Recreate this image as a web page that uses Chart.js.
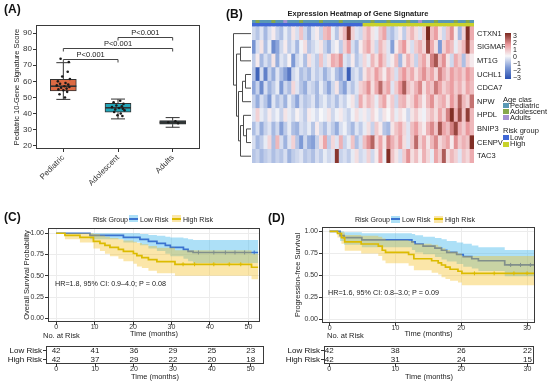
<!DOCTYPE html>
<html>
<head>
<meta charset="utf-8">
<script src="https://cdn.jsdelivr.net/npm/chart.js@4.4.0/dist/chart.umd.min.js"></script>
<style>
  body { margin: 0; background: #fff; width: 550px; height: 383px; overflow: hidden; position: relative;
         font-family: 'Liberation Sans', Arial, sans-serif; }
  canvas { position: absolute; }
  .t { position: absolute; white-space: nowrap; color: #222; line-height: 1; }
</style>
</head>
<body>
<canvas id="boxChart" width="205" height="205" style="left:0;top:0"></canvas>
<canvas id="heatChart" width="285" height="170" style="left:225px;top:0"></canvas>
<canvas id="kmC" width="270" height="142" style="left:0;top:200px"></canvas>
<canvas id="tableC" width="270" height="43" style="left:0;top:340px"></canvas>
<canvas id="kmD" width="275" height="142" style="left:275px;top:200px"></canvas>
<canvas id="tableD" width="275" height="43" style="left:275px;top:340px"></canvas>
<script>
// ---------- data: panel A (box plot) ----------
const ageGroups = ["Pediatric", "Adolescent", "Adults"];
const boxQ1 = [54.1, 40.8, 33.4];
const boxQ3 = [61.2, 46.4, 35.6];
const boxMedian = [57.0, 43.6, 34.5];
const whiskerLow = [48.8, 36.7, 31.5];
const whiskerHigh = [71.6, 49.0, 37.5];
const pediatricScores = [74.0, 72.0, 66.0, 63.0, 61.5, 60.0, 59.0, 58.5, 58.0, 57.5, 57.0, 56.5, 56.0, 55.5, 55.0, 54.5, 53.5, 52.0, 50.0];
const pediatricJitter = [-0.05, 0.1, 0.08, -0.02, 0.12, -0.1, 0.04, -0.06, 0.09, -0.12, 0.02, 0.11, -0.04, 0.06, -0.09, 0.0, 0.07, -0.07, 0.03];
const adolescentScores = [48.0, 47.0, 46.0, 45.0, 44.5, 44.0, 43.5, 43.0, 42.5, 42.0, 41.0, 40.0, 39.0, 38.5];
const adolescentJitter = [0.04, -0.08, 0.1, -0.03, 0.07, -0.11, 0.02, 0.09, -0.05, 0.12, -0.07, 0.05, -0.01, 0.08];
const adultScores = [35.2, 34.6, 34.0];
const adultJitter = [0.05, -0.08, 0.1];
const yTicksA = [20, 30, 40, 50, 60, 70, 80, 90];
const pBracketFrom = [0, 0, 1];
const pBracketTo = [1, 2, 2];
const pBracketY = [74, 80.5, 87.5];
const pLabels = ["P<0.001", "P<0.001", "P<0.001"];

// ---------- data: panel B (heatmap) ----------
const genes = ["CTXN1", "SIGMAR1", "MT1G", "UCHL1", "CDCA7", "NPW", "HPDL", "BNIP3", "CENPV", "TAC3"];
const heatValues = [
  [-0.5,-0.8,-0.3,-1.0,-0.4,0.2,-0.6,-0.9,-0.2,-0.7,0.3,-0.4,0.8,-0.5,-1.1,-0.3,0.2,-0.6,0.9,1.2,-0.2,-0.8,0.4,1.0,2.8,0.6,-0.3,-0.5,
   0.6,1.1,0.3,-0.2,0.8,1.3,-0.6,-0.9,-0.4,0.2,-0.7,0.5,1.0,0.4,-0.3,0.7,3.0,0.9,1.4,0.3,-0.5,0.8,1.6,0.2,-1.0,0.6,2.9,1.2],
  [-1.6,-0.4,0.3,-0.9,-0.2,-1.8,-1.3,-0.5,0.2,-0.7,-0.3,-1.0,-0.1,0.4,-0.8,-0.5,-0.2,0.3,-0.6,-1.1,-0.3,0.1,-0.7,0.6,1.4,-0.4,-0.9,0.2,
   0.8,1.3,0.4,-0.5,1.0,0.5,-0.3,-1.4,0.2,0.9,1.5,0.3,-0.4,0.7,1.1,0.5,2.6,1.2,0.4,-1.5,0.6,1.3,0.9,-0.2,0.5,1.0,2.7,0.8],
  [-0.7,0.2,-1.0,-0.4,-0.8,0.3,-1.2,-0.3,-0.6,0.1,-1.5,-0.5,-0.2,-0.9,0.4,-0.3,-0.7,0.8,-0.4,0.3,1.2,0.9,1.6,-0.3,-0.6,0.2,-0.8,-0.4,
   0.5,-0.2,1.0,0.4,1.4,0.7,-0.3,0.2,0.9,-1.0,0.3,1.1,0.5,-0.6,0.8,1.3,0.4,1.8,2.4,0.9,1.6,0.3,-0.5,1.2,0.7,-0.9,0.6,0.2],
  [-0.8,-2.6,-0.4,-2.0,-0.6,-1.2,-0.3,-0.9,-1.4,-2.2,-0.5,-0.2,-0.9,-0.6,-1.0,-0.3,-0.7,-0.4,-1.1,-0.6,-0.2,-0.9,-1.3,-0.5,-2.7,-0.6,-0.3,-0.8,
   0.3,0.9,0.5,1.4,0.8,0.2,1.1,0.6,-0.4,0.9,1.5,0.7,1.2,0.4,1.0,1.6,0.8,1.3,0.5,1.8,1.1,0.6,1.4,0.9,1.2,0.7,1.5,1.0],
  [-1.3,-0.6,-1.8,-0.4,-1.1,-0.7,-0.2,-1.5,-0.5,-0.9,0.5,-0.3,-0.8,-1.2,-0.4,-0.6,-1.0,-0.2,-0.7,-1.3,-0.5,0.3,-0.9,-1.4,-0.4,-0.8,-0.3,0.6,
   0.9,1.6,0.4,1.2,2.1,0.8,1.3,-0.3,0.7,1.5,2.3,0.9,0.5,1.1,1.7,0.4,1.2,0.8,1.9,1.3,0.6,1.0,1.4,0.7,1.1,0.5,1.3,0.9],
  [-0.6,-1.2,-0.4,-0.8,-1.5,-0.3,-0.9,-0.5,-1.1,-0.2,-0.7,-1.3,-0.4,-0.8,-0.6,-0.3,-1.0,-0.5,-0.2,-0.7,-0.4,-0.9,-0.3,-0.6,-0.1,0.3,-0.5,1.2,
   0.4,1.0,0.6,-0.2,0.8,1.3,0.2,0.7,-0.5,0.9,1.1,0.3,0.6,1.4,0.8,0.2,1.0,1.6,0.5,0.9,1.2,0.4,1.5,0.8,2.2,1.0,0.6,2.0],
  [-0.3,0.6,-0.2,-0.5,0.2,-0.4,-0.1,-0.6,0.3,-0.2,-0.5,0.1,-0.3,-0.7,0.2,-0.1,-0.4,0.0,-0.2,0.3,-0.5,-0.1,0.2,-0.3,-0.6,-0.1,0.4,-0.2,
   0.2,-0.3,0.5,0.1,-0.4,0.3,0.0,0.6,-0.2,0.4,0.1,-0.5,0.3,0.7,0.2,-0.1,0.5,0.9,0.4,1.3,0.6,1.8,2.9,1.1,2.5,0.8,2.7,1.0],
  [-0.9,-0.4,-1.2,-0.6,-0.3,-1.0,-0.5,-1.4,-0.7,-0.2,-0.9,-1.1,-0.4,-0.6,-0.2,-0.8,0.2,-0.5,-0.9,-0.3,-0.7,-1.2,-0.4,-0.1,-0.6,-1.0,-0.3,-0.7,
   -0.2,0.4,-0.6,0.7,0.2,-0.8,-1.0,0.3,0.8,1.2,0.5,-0.3,0.9,1.4,0.6,0.2,1.1,1.7,0.8,2.4,1.3,0.9,1.8,2.6,1.2,0.7,1.5,1.0],
  [-0.4,-1.0,-0.7,-0.2,0.5,-0.9,1.0,-0.4,-1.1,-0.3,0.6,-0.8,-1.5,-0.5,-1.2,-1.4,-0.6,0.4,1.3,-0.7,0.5,-0.3,1.1,-0.6,-0.2,0.8,-0.9,-0.4,
   0.9,1.6,2.2,0.5,1.3,0.3,1.8,1.1,0.6,1.4,0.4,-0.3,0.8,2.1,0.6,1.2,0.3,1.0,1.7,0.5,0.9,1.3,0.2,1.6,0.7,1.1,0.8,2.9],
  [-0.8,-0.6,-1.0,-0.7,-0.5,-0.9,-0.6,-0.8,-0.4,-1.1,-0.7,-0.5,-0.3,-0.8,-0.6,-0.9,-0.4,-0.7,-0.2,-0.5,-0.3,2.8,-0.6,-0.4,-0.7,-0.2,0.4,-0.5,
   -0.3,0.6,-0.5,0.2,1.4,-0.1,2.9,0.8,0.3,-0.4,0.7,1.6,0.4,0.9,0.2,1.1,0.5,-0.2,1.3,0.7,2.3,0.4,1.0,0.6,-0.3,0.8,0.5,1.2]
];
const ageClass = [
  "Pediatric","Adolescent","Pediatric","Pediatric","Pediatric","Adolescent","Pediatric","Pediatric","Adults","Pediatric",
  "Pediatric","Pediatric","Adolescent","Pediatric","Pediatric","Pediatric","Pediatric","Adolescent","Pediatric","Pediatric",
  "Pediatric","Pediatric","Adolescent","Pediatric","Pediatric","Pediatric","Pediatric","Pediatric",
  "Pediatric","Pediatric","Adolescent","Pediatric","Pediatric","Pediatric","Adolescent","Pediatric","Pediatric","Pediatric",
  "Pediatric","Adolescent","Pediatric","Pediatric","Adults","Pediatric","Pediatric","Pediatric","Adolescent","Pediatric",
  "Pediatric","Pediatric","Pediatric","Adolescent","Pediatric","Pediatric","Adolescent","Pediatric"
];
const riskGroup = ageClass.map((_, i) => (i < 28 ? "Low" : "High"));
// row dendrogram: [child a, child b, height]; new node ids continue after the genes
const dendroMerges = [[1, 2, 0.6], [3, 4, 0.35], [11, 5, 0.5], [7, 8, 0.3], [6, 13, 0.45], [14, 9, 0.6], [12, 15, 0.75], [10, 16, 0.85], [0, 17, 1.0]];
const colorbarTicks = ["3", "2", "1", "0", "\u22121", "\u22122", "\u22123"];

// ---------- data: panel C (overall survival) ----------
const timeLowC = [0, 8.8, 17.5, 21.8, 24.0, 26.2, 28.4, 29.7, 33.1, 34.3, 35.6, 52.5];
const survLowC = [1, 0.976, 0.952, 0.929, 0.905, 0.881, 0.857, 0.833, 0.810, 0.786, 0.774, 0.774];
const upperLowC = [1, 1, 1, 0.99, 0.98, 0.97, 0.96, 0.95, 0.94, 0.93, 0.92, 0.92];
const lowerLowC = [1, 0.93, 0.89, 0.86, 0.82, 0.79, 0.76, 0.73, 0.70, 0.67, 0.65, 0.65];
const timeHighC = [0, 2.3, 6.2, 9.7, 11.4, 12.7, 14.0, 16.2, 17.5, 20.1, 21.0, 22.3, 24.0, 26.2, 30.9, 50.8, 52.5];
const survHighC = [1, 0.976, 0.952, 0.905, 0.881, 0.857, 0.833, 0.810, 0.786, 0.762, 0.738, 0.714, 0.690, 0.667, 0.635, 0.600, 0.600];
const upperHighC = [1, 1, 1, 0.99, 0.975, 0.96, 0.945, 0.93, 0.915, 0.9, 0.885, 0.87, 0.85, 0.83, 0.80, 0.76, 0.76];
const lowerHighC = [1, 0.93, 0.89, 0.82, 0.79, 0.76, 0.73, 0.70, 0.67, 0.64, 0.61, 0.59, 0.56, 0.53, 0.50, 0.46, 0.46];
const censorLowC = [37, 41, 44, 46.5, 49, 51.5];
const censorHighC = [33, 36, 41, 45, 48];
const riskTimesC = [0, 10, 20, 30, 40, 50];
const atRiskLowC = [42, 41, 36, 29, 25, 23];
const atRiskHighC = [42, 37, 29, 22, 20, 18];

// ---------- data: panel D (progression-free survival) ----------
const timeLowD = [0, 1.6, 2.2, 4.9, 12.5, 13.0, 14.2, 16.0, 17.0, 17.8, 19.3, 20.3, 21.6, 22.6, 26.6, 31.5];
const survLowD = [1, 0.952, 0.929, 0.905, 0.881, 0.857, 0.833, 0.810, 0.786, 0.762, 0.738, 0.714, 0.690, 0.667, 0.620, 0.620];
const upperLowD = [1, 1, 0.99, 0.98, 0.97, 0.955, 0.94, 0.925, 0.91, 0.89, 0.875, 0.86, 0.84, 0.82, 0.79, 0.79];
const lowerLowD = [1, 0.89, 0.85, 0.82, 0.79, 0.76, 0.74, 0.71, 0.68, 0.66, 0.63, 0.60, 0.58, 0.55, 0.49, 0.49];
const timeHighD = [0, 1.2, 1.8, 2.3, 4.8, 7.4, 8.0, 8.5, 12.0, 12.8, 15.5, 16.5, 17.0, 17.6, 18.3, 19.5, 20.1, 31.5];
const survHighD = [1, 0.976, 0.929, 0.881, 0.857, 0.833, 0.786, 0.762, 0.738, 0.690, 0.667, 0.643, 0.619, 0.595, 0.571, 0.548, 0.524, 0.524];
const upperHighD = [1, 1, 0.99, 0.96, 0.95, 0.94, 0.92, 0.90, 0.89, 0.86, 0.85, 0.83, 0.81, 0.79, 0.77, 0.75, 0.72, 0.72];
const lowerHighD = [1, 0.93, 0.86, 0.78, 0.75, 0.72, 0.67, 0.64, 0.61, 0.56, 0.53, 0.51, 0.48, 0.46, 0.44, 0.42, 0.39, 0.39];
const censorLowD = [27.5, 29, 30.5];
const censorHighD = [22, 25, 28, 30];
const riskTimesD = [0, 10, 20, 30];
const atRiskLowD = [42, 38, 26, 22];
const atRiskHighD = [42, 31, 24, 15];

const survTicks = [0, 0.25, 0.5, 0.75, 1];
const riskRows = ["Low Risk", "High Risk"];

// ---------- styles ----------
const FONT = "'Liberation Sans', Arial, sans-serif";
Chart.defaults.font.family = FONT;
Chart.defaults.font.size = 8;
Chart.defaults.color = "#4d4d4d";
Chart.defaults.animation = false;
Chart.defaults.plugins.legend.display = false;
Chart.defaults.plugins.tooltip.enabled = false;

const boxColors = ["#dc6a43", "#22a5b8", "#32494b"];
const lowLine = "#3b73cf", highLine = "#dcbb00";
const lowBand = "rgba(60,180,235,0.42)", highBand = "rgba(245,190,30,0.38)";
const heatStops = [[-3, [42, 80, 176]], [-1.5, [126, 154, 214]], [0, [247, 247, 249]], [1.5, [234, 152, 156]], [3, [122, 40, 30]]];
const ageColors = { Pediatric: "#5a98b4", Adolescent: "#86a84c", Adults: "#a592d2" };
const riskColors = { Low: "#4068d6", High: "#c8d22a" };

function heatColor(v) {
  for (let i = 1; i < heatStops.length; i++) {
    if (v <= heatStops[i][0] || i === heatStops.length - 1) {
      const [v0, c0] = heatStops[i - 1], [v1, c1] = heatStops[i];
      const f = Math.max(0, Math.min(1, (v - v0) / (v1 - v0)));
      const c = c0.map((c, k) => Math.round(c + (c1[k] - c) * f));
      return `rgb(${c[0]},${c[1]},${c[2]})`;
    }
  }
}

// survival value of a step curve at time t (for censor marks)
function survAt(times, surv, t) {
  let s = surv[0];
  times.forEach((ti, i) => { if (ti <= t) s = surv[i]; });
  return s;
}

// frame round the plot area
const framePlugin = {
  id: "frame",
  afterDraw(chart) {
    const { ctx, chartArea: a } = chart;
    ctx.save();
    ctx.strokeStyle = "#3a3a3a";
    ctx.lineWidth = 1;
    ctx.strokeRect(Math.round(a.left) + 0.5, Math.round(a.top) + 0.5, Math.round(a.width) - 1, Math.round(a.height) - 1);
    ctx.restore();
  }
};

function text(str, x, y, css, anchor) {
  const d = document.createElement("div");
  d.className = "t";
  d.textContent = str;
  d.style.left = x + "px";
  d.style.top = y + "px";
  d.style.cssText += css || "";
  d.style.transform = anchor === "c" ? "translate(-50%,-50%)" : "translate(0,-50%)";
  document.body.appendChild(d);
  return d;
}

// ---------- (A) box plot ----------
const boxExtras = {
  id: "boxExtras",
  afterDatasetDraw(chart, args) {
    if (args.index !== 1) return;
    const { ctx, scales: { x, y } } = chart;
    ctx.save();
    ctx.strokeStyle = "#333";
    ageGroups.forEach((g, i) => {
      const cx = x.getPixelForValue(i);
      ctx.lineWidth = 1;
      ctx.beginPath();
      ctx.moveTo(cx, y.getPixelForValue(boxQ3[i]));
      ctx.lineTo(cx, y.getPixelForValue(whiskerHigh[i]));
      ctx.moveTo(cx, y.getPixelForValue(boxQ1[i]));
      ctx.lineTo(cx, y.getPixelForValue(whiskerLow[i]));
      [whiskerHigh[i], whiskerLow[i]].forEach(v => {
        ctx.moveTo(cx - 7, y.getPixelForValue(v));
        ctx.lineTo(cx + 7, y.getPixelForValue(v));
      });
      ctx.stroke();
      ctx.lineWidth = 1.6;
      ctx.beginPath();
      ctx.moveTo(cx - 13, y.getPixelForValue(boxMedian[i]));
      ctx.lineTo(cx + 13, y.getPixelForValue(boxMedian[i]));
      ctx.stroke();
    });
    ctx.restore();
  },
  afterDraw(chart) {
    const { ctx, scales: { x, y } } = chart;
    ctx.save();
    ctx.strokeStyle = "#444";
    ctx.fillStyle = "#222";
    ctx.lineWidth = 1;
    ctx.font = "7.5px " + FONT;
    ctx.textAlign = "center";
    ctx.textBaseline = "bottom";
    pBracketY.forEach((v, i) => {
      const x1 = x.getPixelForValue(pBracketFrom[i]), x2 = x.getPixelForValue(pBracketTo[i]);
      const yy = Math.round(y.getPixelForValue(v)) + 0.5;
      ctx.beginPath();
      ctx.moveTo(x1, yy + 3);
      ctx.lineTo(x1, yy);
      ctx.lineTo(x2, yy);
      ctx.lineTo(x2, yy + 3);
      ctx.stroke();
      ctx.fillText(pLabels[i], (x1 + x2) / 2, yy - 1);
    });
    ctx.restore();
  }
};

const jitterPoints = [
  ...pediatricScores.map((v, i) => ({ x: 0 + pediatricJitter[i], y: v })),
  ...adolescentScores.map((v, i) => ({ x: 1 + adolescentJitter[i], y: v })),
  ...adultScores.map((v, i) => ({ x: 2 + adultJitter[i], y: v }))
];

new Chart(document.getElementById("boxChart"), {
  type: "bar",
  data: {
    datasets: [
      { type: "scatter", data: jitterPoints, pointRadius: 1.3, pointBackgroundColor: "#1a1a1a", pointBorderWidth: 0 },
      {
        type: "bar",
        data: ageGroups.map((g, i) => ({ x: i, y: [boxQ1[i], boxQ3[i]] })),
        backgroundColor: boxColors,
        borderColor: "#333",
        borderWidth: 1,
        borderSkipped: false,
        barThickness: 26
      }
    ]
  },
  options: {
    responsive: false,
    layout: { padding: { left: 8, top: 25, right: 5, bottom: 0 } },
    scales: {
      x: {
        type: "linear", min: -0.5, max: 2.5, offset: false,
        afterBuildTicks: s => { s.ticks = ageGroups.map((g, i) => ({ value: i })); },
        afterFit: s => { s.height = 56; },
        grid: { display: true, drawOnChartArea: false, offset: false, tickLength: 3, tickColor: "#333" },
        border: { display: false },
        ticks: { autoSkip: false, minRotation: 45, maxRotation: 45, padding: 1, color: "#333", font: { size: 8 },
                 callback: v => ageGroups[v] }
      },
      y: {
        min: 18, max: 95,
        afterBuildTicks: s => { s.ticks = yTicksA.map(v => ({ value: v })); },
        afterFit: s => { s.width = 28; },
        grid: { display: true, drawOnChartArea: false, tickLength: 3, tickColor: "#333" },
        border: { display: false },
        ticks: { padding: 1, color: "#333", font: { size: 8 } },
        title: { display: true, text: "Pediatric 10-Gene Signature Score", color: "#222", font: { size: 7.5 }, padding: { top: 4, bottom: 0 } }
      }
    }
  },
  plugins: [framePlugin, boxExtras]
});

// ---------- (B) heatmap ----------
function rowCenter(chart, g) {
  const el = chart.getDatasetMeta(genes.length - 1 - g).data[0];
  return (el.y + el.base) / 2;
}
const heatExtras = {
  id: "heatExtras",
  afterDraw(chart) {
    const { ctx, chartArea: a } = chart;
    ctx.save();
    ctx.fillStyle = "#222";
    ctx.font = "7.5px " + FONT;
    ctx.textBaseline = "middle";
    genes.forEach((g, i) => ctx.fillText(g, a.right + 3, rowCenter(chart, i)));
    // row dendrogram
    ctx.strokeStyle = "#4a4a4a";
    ctx.lineWidth = 1;
    const pos = genes.map((g, i) => ({ x: a.left - 1, y: rowCenter(chart, i) }));
    dendroMerges.forEach(([p, q, h]) => {
      const nx = Math.round(a.left - 1 - h * 18) + 0.5;
      const A = pos[p], B = pos[q];
      ctx.beginPath();
      ctx.moveTo(A.x, A.y); ctx.lineTo(nx, A.y); ctx.lineTo(nx, B.y); ctx.lineTo(B.x, B.y);
      ctx.stroke();
      pos.push({ x: nx, y: (A.y + B.y) / 2 });
    });
    ctx.restore();
  }
};

const heatDatasets = [];
for (let g = genes.length - 1; g >= 0; g--) {
  heatDatasets.push({ label: genes[g], data: heatValues[g].map(() => 1), backgroundColor: heatValues[g].map(heatColor) });
}
heatDatasets.push({ label: "Risk group", data: riskGroup.map(() => 0.25), backgroundColor: riskGroup.map(r => riskColors[r]) });
heatDatasets.push({ label: "Age class", data: ageClass.map(() => 0.25), backgroundColor: ageClass.map(c => ageColors[c]) });
heatDatasets.forEach(d => Object.assign(d, { barPercentage: 1, categoryPercentage: 1, borderWidth: 0, inflateAmount: 0.4 }));

new Chart(document.getElementById("heatChart"), {
  type: "bar",
  data: { labels: ageClass.map((c, i) => "S" + (i + 1)), datasets: heatDatasets },
  options: {
    responsive: false,
    layout: { padding: { left: 27, right: 36, top: 20, bottom: 7 } },
    scales: {
      x: { stacked: true, display: false },
      y: { stacked: true, display: false, min: 0, max: 10.5 }
    }
  },
  plugins: [heatExtras]
});

// ---------- (C)/(D) Kaplan-Meier ----------
function kmDatasets(s) {
  const pts = (xs, ys) => xs.map((t, i) => ({ x: t, y: ys[i] }));
  const band = { borderColor: "rgba(0,0,0,0)", borderWidth: 0, pointRadius: 0, stepped: true };
  return [
    { type: "scatter", data: s.highCens.map(t => ({ x: t, y: survAt(s.highT, s.highS, t) })), pointStyle: "cross", pointRadius: 2, borderColor: highLine, borderWidth: 1 },
    { data: pts(s.highT, s.highS), borderColor: highLine, borderWidth: 1.7, stepped: true, pointRadius: 0, fill: false },
    { data: pts(s.highT, s.highU), ...band, fill: "+1", backgroundColor: highBand },
    { data: pts(s.highT, s.highL), ...band, fill: false },
    { type: "scatter", data: s.lowCens.map(t => ({ x: t, y: survAt(s.lowT, s.lowS, t) })), pointStyle: "cross", pointRadius: 2, borderColor: lowLine, borderWidth: 1 },
    { data: pts(s.lowT, s.lowS), borderColor: lowLine, borderWidth: 1.7, stepped: true, pointRadius: 0, fill: false },
    { data: pts(s.lowT, s.lowU), ...band, fill: "+1", backgroundColor: lowBand },
    { data: pts(s.lowT, s.lowL), ...band, fill: false }
  ];
}

function kmChart(id, s) {
  return new Chart(document.getElementById(id), {
    type: "line",
    data: { datasets: kmDatasets(s) },
    options: {
      responsive: false,
      layout: { padding: { left: s.padLeft, top: s.padTop, right: s.padRight, bottom: 0 } },
      scales: {
        x: {
          type: "linear", min: s.xMin, max: s.xMax,
          afterBuildTicks: sc => { sc.ticks = s.ticks.map(v => ({ value: v })); },
          afterFit: sc => { sc.height = s.xHeight; },
          grid: { color: "#ececec", tickLength: 3, tickColor: "#333" },
          border: { display: false },
          ticks: { padding: -2, color: "#333", font: { size: 7 } },
          title: { display: true, text: "Time (months)", color: "#222", font: { size: 7.5 }, padding: { top: 0, bottom: 4 } }
        },
        y: {
          min: s.yMin, max: s.yMax,
          afterBuildTicks: sc => { sc.ticks = survTicks.map(v => ({ value: v })); },
          afterFit: sc => { sc.width = s.yWidth; },
          grid: { color: "#ececec", tickLength: 3, tickColor: "#333" },
          border: { display: false },
          ticks: { padding: 1, color: "#333", font: { size: 7 }, callback: v => v.toFixed(2) },
          title: { display: true, text: s.yTitle, color: "#222", font: { size: 7.5 }, padding: { top: 4, bottom: 0 } }
        }
      }
    },
    plugins: [framePlugin]
  });
}

const countLabels = {
  id: "countLabels",
  afterDatasetsDraw(chart) {
    const { ctx } = chart;
    ctx.save();
    ctx.fillStyle = "#222";
    ctx.font = "8px " + FONT;
    ctx.textAlign = "center";
    ctx.textBaseline = "middle";
    chart.data.datasets.forEach((ds, d) => {
      chart.getDatasetMeta(d).data.forEach((el, i) => ctx.fillText(String(ds.counts[i]), el.x, el.y));
    });
    ctx.restore();
  }
};

function riskTable(id, s) {
  return new Chart(document.getElementById(id), {
    type: "scatter",
    data: {
      datasets: [
        { data: s.times.map(t => ({ x: t, y: riskRows[0] })), counts: s.low, pointRadius: 0 },
        { data: s.times.map(t => ({ x: t, y: riskRows[1] })), counts: s.high, pointRadius: 0 }
      ]
    },
    options: {
      responsive: false,
      layout: { padding: { left: 0, top: 2, right: s.padRight, bottom: 0 } },
      scales: {
        x: {
          type: "linear", min: s.xMin, max: s.xMax,
          afterBuildTicks: sc => { sc.ticks = s.times.map(v => ({ value: v })); },
          afterFit: sc => { sc.height = 19; },
          grid: { drawOnChartArea: false, tickLength: 3, tickColor: "#333" },
          border: { display: false },
          ticks: { padding: -2, color: "#333", font: { size: 7 } },
          title: { display: true, text: "Time (months)", color: "#222", font: { size: 7.5 }, padding: { top: 0, bottom: 1.5 } }
        },
        y: {
          type: "category", labels: riskRows, offset: true,
          afterFit: sc => { sc.width = s.yWidth; },
          grid: { drawOnChartArea: false, offset: false, tickLength: 3, tickColor: "#333" },
          border: { display: false },
          ticks: { autoSkip: false, padding: 1, color: "#111", font: { size: 8 } }
        }
      }
    },
    plugins: [framePlugin, countLabels]
  });
}

kmChart("kmC", {
  lowT: timeLowC, lowS: survLowC, lowU: upperLowC, lowL: lowerLowC, lowCens: censorLowC,
  highT: timeHighC, highS: survHighC, highU: upperHighC, highL: lowerHighC, highCens: censorHighC,
  ticks: riskTimesC, xMin: -2.1, xMax: 53, yMin: -0.044, yMax: 1.062,
  padLeft: 18, padTop: 28, padRight: 10, yWidth: 30, xHeight: 20, yTitle: "Overall Survival Probability"
});
riskTable("tableC", { times: riskTimesC, low: atRiskLowC, high: atRiskHighC, xMin: -2.6, xMax: 53.4, padRight: 6, yWidth: 46 });

kmChart("kmD", {
  lowT: timeLowD, lowS: survLowD, lowU: upperLowD, lowL: lowerLowD, lowCens: censorLowD,
  highT: timeHighD, highS: survHighD, highU: upperHighD, highL: lowerHighD, highCens: censorHighD,
  ticks: riskTimesD, xMin: -1.15, xMax: 31.2, yMin: -0.039, yMax: 1.05,
  padLeft: 14, padTop: 27, padRight: 15, yWidth: 33, xHeight: 19, yTitle: "Progression-free Survival"
});
riskTable("tableD", { times: riskTimesD, low: atRiskLowD, high: atRiskHighD, xMin: -0.8, xMax: 31.0, padRight: 16, yWidth: 49 });

// ---------- text, legends ----------
text("(A)", 4, 9, "font-weight:bold;font-size:12px;color:#111");
text("(B)", 226, 14, "font-weight:bold;font-size:12px;color:#111");
text("(C)", 4, 217, "font-weight:bold;font-size:12px;color:#111");
text("(D)", 268, 218, "font-weight:bold;font-size:12px;color:#111");
text("Expression Heatmap of Gene Signature", 358, 14, "font-weight:bold;font-size:7.5px", "c");

// colour bar
const bar = document.createElement("div");
bar.style.cssText = "position:absolute;left:505px;top:33px;width:6px;height:46px;" +
  "background:linear-gradient(to bottom,#7a281e,#ea989c 25%,#f7f7f9 50%,#7e9ad6 75%,#2a50b0)";
document.body.appendChild(bar);
colorbarTicks.forEach((t, i) => text(t, 513, 35 + i * 7, "font-size:7px"));

function swatch(x, y, w, h, css) {
  const d = document.createElement("div");
  d.style.cssText = `position:absolute;left:${x}px;top:${y}px;width:${w}px;height:${h}px;` + css;
  document.body.appendChild(d);
}
text("Age clas", 503, 100, "font-size:7.5px");
Object.keys(ageColors).forEach((k, i) => {
  swatch(503, 103 + i * 6, 6, 5, "background:" + ageColors[k]);
  text(k, 510, 105.5 + i * 6, "font-size:7.5px");
});
text("Risk group", 503, 131, "font-size:7.5px");
Object.keys(riskColors).forEach((k, i) => {
  swatch(503, 135 + i * 6.5, 6, 5, "background:" + riskColors[k]);
  text(k, 510, 137.7 + i * 6.5, "font-size:7.5px");
});

function kmLegend(x0, y) {
  text("Risk Group", x0, y, "font-size:7px");
  swatch(x0 + 36, y - 3.5, 9, 7, "background:" + lowBand);
  swatch(x0 + 36, y - 1, 9, 2, "background:" + lowLine);
  text("Low Risk", x0 + 47, y, "font-size:7px");
  swatch(x0 + 79, y - 3.5, 9, 7, "background:" + highBand);
  swatch(x0 + 79, y - 1, 9, 2, "background:" + highLine);
  text("High Risk", x0 + 90, y, "font-size:7px");
}
kmLegend(93, 218.5);
kmLegend(355, 219);

text("No. at Risk", 43, 336, "font-size:7.5px");
text("No. at Risk", 327, 336, "font-size:7.5px");
text("HR=1.8, 95% CI: 0.9\u20134.0; P = 0.08", 55, 284, "font-size:7.2px");
text("HR=1.6, 95% CI: 0.8\u20133.0; P = 0.09", 328, 292.7, "font-size:7.2px");
</script>
</body>
</html>
